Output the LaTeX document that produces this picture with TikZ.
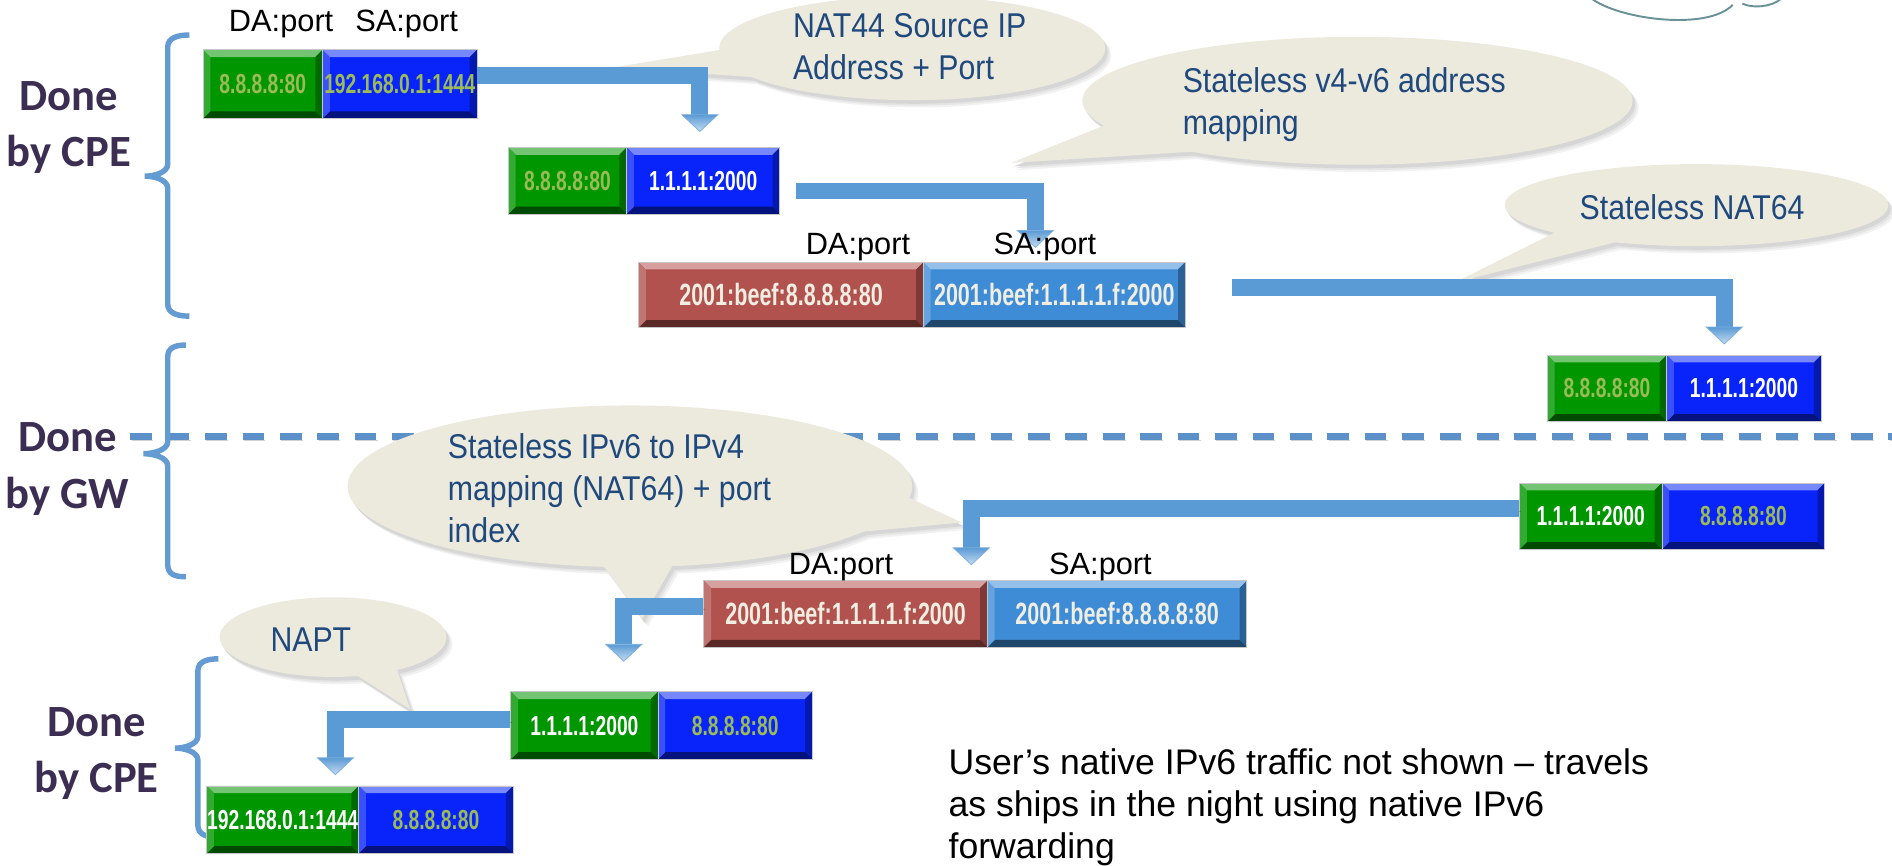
\documentclass[tikz,border=0pt]{standalone}
\usepackage{fontspec}
\setmainfont{Liberation Sans}
\newfontfamily\cellfont[FakeStretch=0.70]{Liberation Sans}
\newfontfamily\bubblefont[FakeStretch=0.88]{Liberation Sans}
\newfontfamily\sidefont{Carlito}
\usetikzlibrary{calc}

\definecolor{pgreen}{RGB}{0,150,0}
\definecolor{pblue}{RGB}{8,36,250}
\definecolor{pred}{RGB}{178,82,78}
\definecolor{plblue}{RGB}{62,140,214}
\definecolor{olivetxt}{RGB}{155,187,89}
\definecolor{creamtxt}{RGB}{240,238,226}
\definecolor{bubblefill}{RGB}{236,233,221}
\definecolor{calltxt}{RGB}{31,73,125}
\definecolor{donecol}{RGB}{60,45,82}
\definecolor{flow}{RGB}{91,155,213}
\definecolor{braceblue}{RGB}{100,155,210}
\definecolor{dashblue}{RGB}{91,145,200}
\definecolor{cloudline}{RGB}{105,145,152}

\tikzset{
  cell/.style={anchor=north west, inner sep=0pt, fill=#1, draw=black!22, line width=0.6pt,
    font=\cellfont\bfseries\fontsize{22.8}{26}\selectfont,
    path picture={
      \coordinate (pA) at (path picture bounding box.north west);
      \coordinate (pB) at (path picture bounding box.north east);
      \coordinate (pC) at (path picture bounding box.south east);
      \coordinate (pD) at (path picture bounding box.south west);
      \fill[#1!55!white] (pA) -- (pB) -- ($(pB)+(-6pt,-6pt)$) -- ($(pA)+(6pt,-6pt)$) -- cycle;
      \fill[#1!70!black] (pB) -- (pC) -- ($(pC)+(-6pt,6pt)$) -- ($(pB)+(-6pt,-6pt)$) -- cycle;
      \fill[#1!50!black] (pC) -- (pD) -- ($(pD)+(6pt,6pt)$) -- ($(pC)+(-6pt,6pt)$) -- cycle;
      \fill[#1!80!white] (pD) -- (pA) -- ($(pA)+(6pt,-6pt)$) -- ($(pD)+(6pt,6pt)$) -- cycle;
    }},
  v6/.style={font=\cellfont\bfseries\fontsize{25.5}{29}\selectfont},
  portlbl/.style={font=\fontsize{25.5}{30}\selectfont, inner sep=0pt, anchor=base},
  bubbletext/.style={font=\bubblefont\fontsize{28.5}{35}\selectfont, text=calltxt, inner sep=0pt, align=left},
  side/.style={font=\sidefont\bfseries\fontsize{37}{47}\selectfont, text=donecol, inner sep=0pt, align=center, anchor=north},
  note/.style={font=\fontsize{29.5}{35}\selectfont, inner sep=0pt, align=left, anchor=north west},
  shaft/.style={draw=flow, line width=14pt, line join=miter,
    preaction={draw=black, draw opacity=0.2, transform canvas={shift={(1.5pt,-2.5pt)}}}},
  head/.style={top color=flow, bottom color=flow!35!white, draw=flow!80!white, line width=0.6pt},
  brace/.style={draw=braceblue, line width=4.5pt},
  divider/.style={draw=dashblue, line width=6pt, dash pattern=on 18pt off 13pt,
    preaction={draw=black, draw opacity=0.18, dash pattern=on 18pt off 13pt,
      transform canvas={shift={(1pt,-2.5pt)}}}},
  cloud/.style={draw=cloudline, line width=1.6pt},
}

% speech bubbles: ellipse bodies and their tails, filled with the given colour
\newcommand\bubbles[1]{%
  \fill[#1] (756,40) ellipse [x radius=160, y radius=43];
  \fill[#1] (605,40) -- (508,56) -- (640,65) -- cycle;
  \fill[#1] (1125,83.5) ellipse [x radius=228, y radius=53];
  \fill[#1] (925,100) -- (838,135) -- (1000,125) -- cycle;
  \fill[#1] (1406,170) ellipse [x radius=159, y radius=34];
  \fill[#1] (1294,190) -- (1206,234) -- (1350,198) -- cycle;
  \fill[#1] (522,403) ellipse [x radius=234, y radius=67];
  \fill[#1] (748,410) -- (797,433) -- (700,442) -- cycle;
  \fill[#1] (498,466) -- (532,513) -- (560,464) -- cycle;
  \fill[#1] (276,528) ellipse [x radius=94, y radius=33];
  \fill[#1] (290,556) -- (340,588) -- (328,552) -- cycle;
}

% left curly bracket: spine x, hook x, tip x, top y, middle y, bottom y
\newcommand\sidebrace[6]{%
  \draw[brace] (#2,#4) .. controls +(-9,0) and +(0,-8) .. (#1,#4+10)
    -- (#1,#5-10) .. controls +(0,7) and +(8,0) .. (#3,#5)
    .. controls +(8,0) and +(0,-7) .. (#1,#5+10)
    -- (#1,#6-10) .. controls +(0,8) and +(-9,0) .. (#2,#6);}

% block arrow head: base centre, tip
\newcommand\flowhead[2]{%
  \path[head] ($(#1)+(-15pt,0pt)$) -- ($(#1)+(15pt,0pt)$) -- (#2) -- cycle;}

\begin{document}
\begin{tikzpicture}[x=1pt,y=-1pt]
\useasboundingbox (0,0) rectangle (1568,717);

% cloud outline at the top edge
\draw[cloud] (1318,-2) .. controls (1340,16) and (1415,26) .. (1436,4);
\draw[cloud] (1444,3) .. controls (1452,7) and (1468,6) .. (1476,-1);

% bubble shadows
\begin{scope}[shift={(5pt,-6pt)}]\bubbles{black!5}\end{scope}
\begin{scope}[shift={(3.5pt,-4.5pt)}]\bubbles{black!10}\end{scope}
\begin{scope}[shift={(2pt,-3pt)}]\bubbles{black!16}\end{scope}

% CPE / gateway divider
\coordinate (dL) at (108,362);
\coordinate (dR) at (1568,362);
\draw[divider] (dL) -- (dR);

% bubbles
\bubbles{bubblefill}

% brackets
\sidebrace{139}{157}{120}{29}{146}{262}
\sidebrace{139}{154}{119}{286}{376}{478}
\sidebrace{164}{181}{145}{546}{620}{694}

% packets
\node[cell=pgreen, text=olivetxt, minimum width=99pt, minimum height=57pt] (b1l) at (168,41) {8.8.8.8:80};
\node[cell=pblue, text=olivetxt, minimum width=128pt, minimum height=57pt] (b1r) at (267,41) {192.168.0.1:1444};

\node[cell=pgreen, text=olivetxt, minimum width=98pt, minimum height=55pt] (b2l) at (421,122) {8.8.8.8:80};
\node[cell=pblue, text=white, minimum width=127pt, minimum height=55pt] (b2r) at (519,122) {1.1.1.1:2000};

\node[cell=pred, v6, text=creamtxt, minimum width=236pt, minimum height=54pt] (b3l) at (529,217) {2001:beef:8.8.8.8:80};
\node[cell=plblue, v6, text=creamtxt, minimum width=217pt, minimum height=54pt] (b3r) at (765,217) {2001:beef:1.1.1.1.f:2000};

\node[cell=pgreen, text=olivetxt, minimum width=99pt, minimum height=55pt] (b4l) at (1282,294) {8.8.8.8:80};
\node[cell=pblue, text=white, minimum width=128pt, minimum height=55pt] (b4r) at (1381,294) {1.1.1.1:2000};

\node[cell=pgreen, text=white, minimum width=118pt, minimum height=55pt] (b5l) at (1259,400) {1.1.1.1:2000};
\node[cell=pblue, text=olivetxt, minimum width=135pt, minimum height=55pt] (b5r) at (1377,400) {8.8.8.8:80};

\node[cell=pred, v6, text=creamtxt, minimum width=235pt, minimum height=55pt] (b6l) at (583,481) {2001:beef:1.1.1.1.f:2000};
\node[cell=plblue, v6, text=creamtxt, minimum width=215pt, minimum height=55pt] (b6r) at (818,481) {2001:beef:8.8.8.8:80};

\node[cell=pgreen, text=white, minimum width=122pt, minimum height=56pt] (b7l) at (423,573) {1.1.1.1:2000};
\node[cell=pblue, text=olivetxt, minimum width=128pt, minimum height=56pt] (b7r) at (545,573) {8.8.8.8:80};

\node[cell=pgreen, text=white, minimum width=126pt, minimum height=56pt] (b8l) at (171,651) {192.168.0.1:1444};
\node[cell=pblue, text=olivetxt, minimum width=128pt, minimum height=56pt] (b8r) at (297,651) {8.8.8.8:80};

% flow arrows
\coordinate (h1) at (580,95);   \coordinate (t1) at (580,109);
\coordinate (h2) at (858,191);  \coordinate (t2) at (858,205);
\coordinate (h3) at (1429,271); \coordinate (t3) at (1429,285);
\coordinate (h5) at (805,454);  \coordinate (t5) at (805,468);
\coordinate (h6) at (517,534);  \coordinate (t6) at (517,548);
\coordinate (h7) at (278,628);  \coordinate (t7) at (278,642);

\draw[shaft] ([yshift=7.5pt]b1r.east) -| (h1);
\draw[shaft] ([xshift=13pt,yshift=-8.5pt]b2r.east) -| (h2);
\draw[shaft] ([xshift=38pt,yshift=6pt]b3r.east) -| (h3);
\draw[shaft] ([yshift=6.5pt]b5l.west) -| (h5);
\draw[shaft] ([yshift=6.5pt]b6l.west) -| (h6);
\draw[shaft] ([yshift=5pt]b7l.west) -| (h7);
\flowhead{h1}{t1}
\flowhead{h2}{t2}
\flowhead{h3}{t3}
\flowhead{h5}{t5}
\flowhead{h6}{t6}
\flowhead{h7}{t7}

% field labels
\node[portlbl] (l1) at (233,26) {DA:port};
\node[portlbl] (l2) at (337,26) {SA:port};
\node[portlbl] (l3) at (711,211) {DA:port};
\node[portlbl] (l4) at (866,211) {SA:port};
\node[portlbl] (l5) at (697,476) {DA:port};
\node[portlbl] (l6) at (912,476) {SA:port};

% bubble texts
\node[bubbletext, anchor=north west] (n1) at (657,11) {NAT44 Source IP\\Address + Port};
\node[bubbletext, anchor=north west] (n2) at (980,56) {Stateless v4-v6 address\\mapping};
\node[bubbletext, anchor=base west] (n3) at (1309,182) {Stateless NAT64};
\node[bubbletext, anchor=north west] (n4) at (371,359) {Stateless IPv6 to IPv4\\mapping (NAT64) + port\\index};
\node[bubbletext, anchor=base west] (n5) at (224,540) {NAPT};

% where each step happens
\node[side] (s1) at (57,67) {Done\\by CPE};
\node[side] (s2) at (56,350) {Done\\by GW};
\node[side] (s3) at (80,586) {Done\\by CPE};

% footnote
\node[note] (fn) at (786,620) {User’s native IPv6 traffic not shown – travels\\as ships in the night using native IPv6\\forwarding};
\end{tikzpicture}
\end{document}
